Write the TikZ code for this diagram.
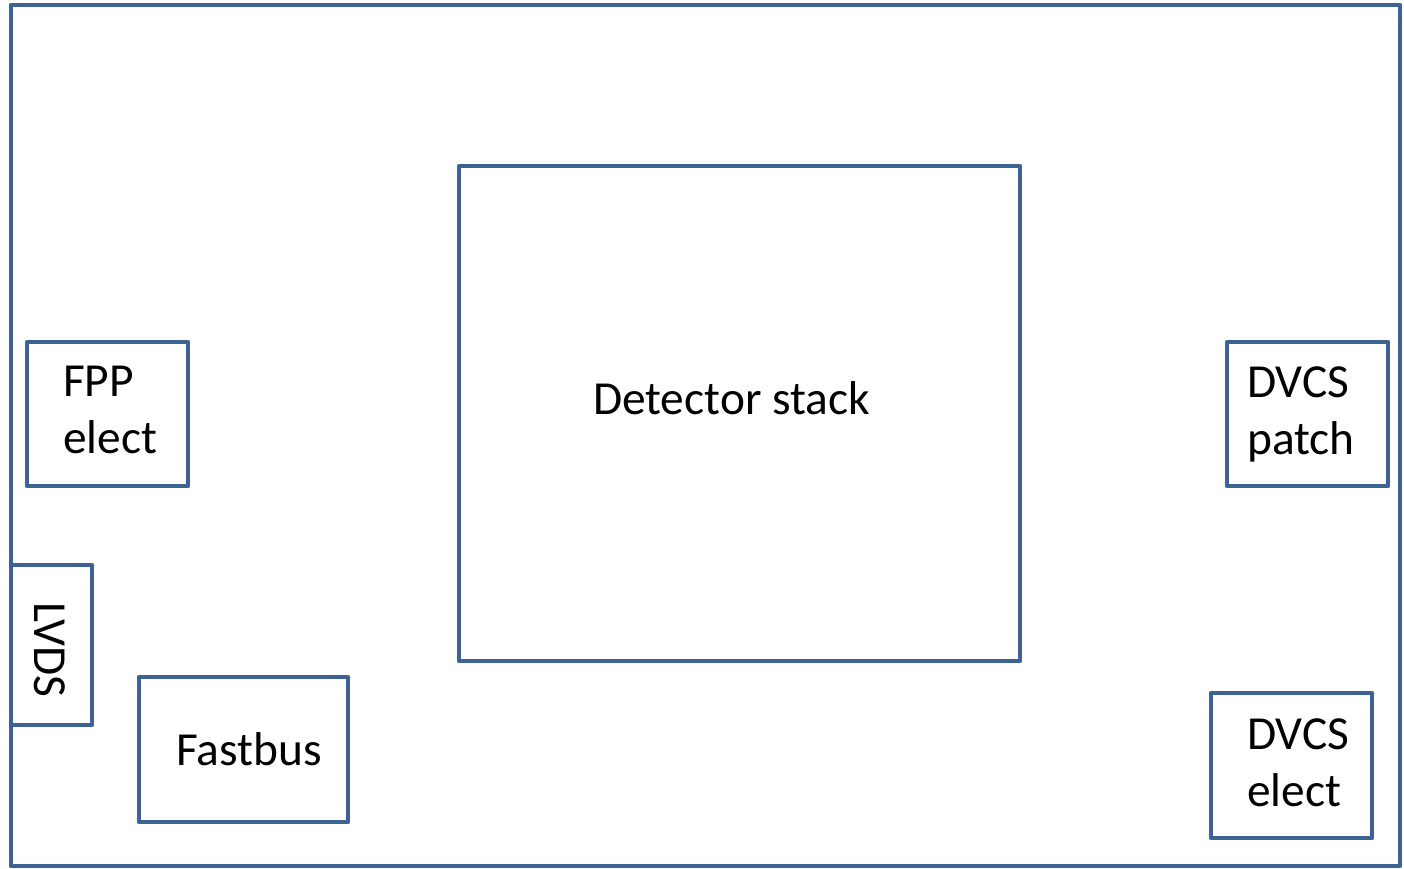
\documentclass[tikz,border=0pt]{standalone}
\usepackage{fontspec}
\setmainfont{Carlito}
\definecolor{boxblue}{RGB}{62,99,146}
\begin{document}
\begin{tikzpicture}[x=1bp,y=-1bp,
  box/.style={draw=boxblue,line width=4.8bp,line join=round,fill=none,inner sep=0pt},
  lbl/.style={inner sep=0pt,font=\fontsize{47.6}{57}\selectfont,text=black},
  mlbl/.style={lbl,align=left,anchor=north west}]
\useasboundingbox (0,0) rectangle (1404,868);
\fill[white] (0,0) rectangle (1404,868);
% outer frame
\node[box,minimum width=1389bp,minimum height=861bp] (frame) at (705.5,435.5) {};
% detector stack
\node[box,minimum width=561bp,minimum height=495bp] (det) at (739.5,413.5) {};
\node[lbl,anchor=base] (dett) at (731.5,414) {Detector stack};
% FPP elect
\node[box,minimum width=161bp,minimum height=144bp] (fpp) at (107.5,414) {};
\node[mlbl] (fppt) at (63,366.3) {FPP\\elect};
% DVCS patch
\node[box,minimum width=161bp,minimum height=144bp] (patch) at (1307.5,414) {};
\node[mlbl] (patcht) at (1247,366.3) {DVCS\\patch};
% LVDS
\node[box,minimum width=81bp,minimum height=160bp] (lvds) at (51.5,645) {};
\node[lbl,anchor=base,rotate=-90] (lvdst) at (34,650) {LVDS};
% Fastbus
\node[box,minimum width=209bp,minimum height=145bp] (fast) at (243.5,749.5) {};
\node[lbl,anchor=base] (fastt) at (249,765) {Fastbus};
% DVCS elect
\node[box,minimum width=161bp,minimum height=145bp] (delect) at (1291.5,765.5) {};
\node[mlbl] (delectt) at (1247,718.3) {DVCS\\elect};
\end{tikzpicture}
\end{document}
